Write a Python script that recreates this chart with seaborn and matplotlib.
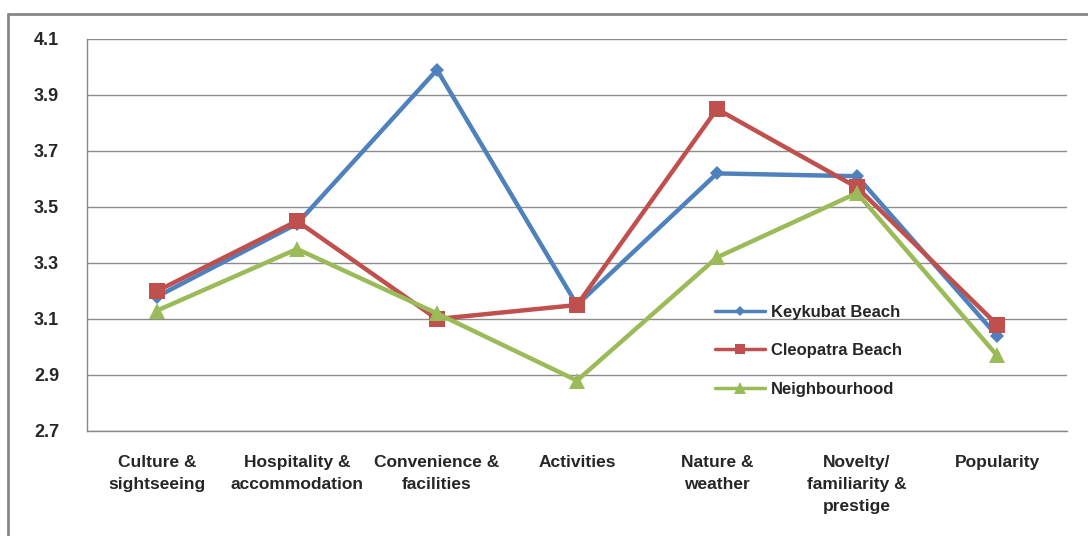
import numpy as np
import pandas as pd
import matplotlib
matplotlib.use("Agg")
import matplotlib.pyplot as plt
import seaborn as sns
from matplotlib.lines import Line2D

# categories and series
categories = ["Culture &\nsightseeing", "Hospitality &\naccommodation", "Convenience &\nfacilities",
              "Activities", "Nature &\nweather", "Novelty/\nfamiliarity &\nprestige", "Popularity"]
keykubat = [3.18, 3.44, 3.99, 3.15, 3.62, 3.61, 3.04]
cleopatra = [3.20, 3.45, 3.10, 3.15, 3.85, 3.57, 3.08]
neighbourhood = [3.13, 3.35, 3.12, 2.88, 3.32, 3.55, 2.97]
series_names = ["Keykubat Beach", "Cleopatra Beach", "Neighbourhood"]
y_ticks = [2.7, 2.9, 3.1, 3.3, 3.5, 3.7, 3.9, 4.1]

df = pd.DataFrame({
    "pos": list(range(len(categories))) * 3,
    "value": keykubat + cleopatra + neighbourhood,
    "series": np.repeat(series_names, len(categories)),
})

colors = {"Keykubat Beach": "#4F81BD", "Cleopatra Beach": "#C0504D", "Neighbourhood": "#9BBB59"}
markers = {"Keykubat Beach": "D", "Cleopatra Beach": "s", "Neighbourhood": "^"}
msizes = {"Keykubat Beach": 7, "Cleopatra Beach": 11, "Neighbourhood": 12}

sns.set_style("white")
plt.rcParams['font.family'] = ['Liberation Sans Narrow', 'Liberation Sans', 'DejaVu Sans']

fig = plt.figure(figsize=(10.88, 5.36), dpi=100)
ax = fig.add_axes([87 / 1088, 105 / 536, 980 / 1088, 392 / 536])

for name in series_names:
    sub = df[df["series"] == name]
    sns.lineplot(data=sub, x="pos", y="value", ax=ax, color=colors[name], lw=3.2,
                 marker=markers[name], markersize=msizes[name], markeredgewidth=0,
                 label=name, legend=False)

ax.set_xlim(-0.5, len(categories) - 0.5)
ax.set_ylim(2.7, 4.1)
ax.set_yticks(y_ticks)
ax.set_yticklabels([f"{t:.1f}" for t in y_ticks], fontsize=13, fontweight="bold")
ax.set_xticks(np.arange(len(categories)))
ax.set_xticklabels(categories, fontsize=12.5, fontweight="bold", linespacing=1.6, va="top")
ax.set_xticks(np.arange(len(categories) + 1) - 0.5, minor=True)
ax.tick_params(axis="x", which="major", length=0, pad=17)
ax.tick_params(axis="x", which="minor", length=6, color="#888888", width=1, direction="out")
ax.tick_params(axis="y", length=6, color="#888888", width=1, direction="out", pad=14)
ax.grid(axis="y", color="#8c8c8c", lw=1)
ax.set_xlabel("")
ax.set_ylabel("")
for s in ["top", "right"]:
    ax.spines[s].set_visible(False)
for s in ["left", "bottom"]:
    ax.spines[s].set_color("#888888")
    ax.spines[s].set_linewidth(1)

handles = [Line2D([], [], color=colors[n], lw=2.5, marker=markers[n],
                  markersize=msizes[n] * 0.7, markeredgewidth=0) for n in series_names]
ax.legend(handles, series_names, loc="upper left", bbox_to_anchor=(0.625, 0.36),
          frameon=False, handlelength=3.0, labelspacing=1.4,
          handletextpad=0.4, prop={"weight": "bold", "size": 12})

# outer chart border (top and left edges visible in reference)
fig.add_artist(Line2D([8 / 1088, 1.0], [1 - 14 / 536, 1 - 14 / 536], transform=fig.transFigure,
                      color="#888888", lw=2))
fig.add_artist(Line2D([8 / 1088, 8 / 1088], [0, 1 - 14 / 536], transform=fig.transFigure,
                      color="#888888", lw=2))

fig.savefig("out.png", dpi=100, facecolor="white")
